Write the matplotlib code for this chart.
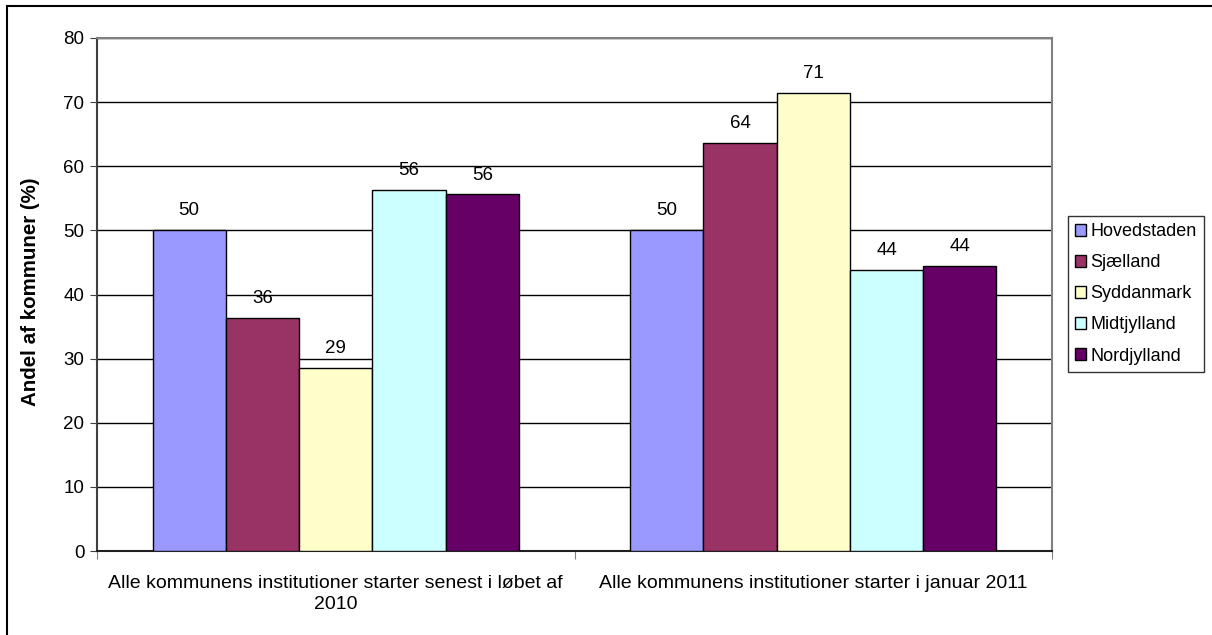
import matplotlib.pyplot as plt
from matplotlib.patches import Rectangle
import numpy as np

# data
categories = ["Alle kommunens institutioner starter senest i løbet af\n2010",
              "Alle kommunens institutioner starter i januar 2011"]
regions = ["Hovedstaden", "Sjælland", "Syddanmark", "Midtjylland", "Nordjylland"]
values = {
    "Hovedstaden": [50.0, 50.0],
    "Sjælland": [36.4, 63.6],
    "Syddanmark": [28.6, 71.4],
    "Midtjylland": [56.3, 43.8],
    "Nordjylland": [55.6, 44.4],
}
colors = ["#9999FF", "#993366", "#FFFFCC", "#CCFFFF", "#660066"]
yticks = [0, 10, 20, 30, 40, 50, 60, 70, 80]

plt.rcParams['font.family'] = ['Liberation Sans', 'DejaVu Sans']

W, H = 1212, 635
fig = plt.figure(figsize=(W/100, H/100), dpi=100)
ax = fig.add_axes([97/W, 1-551/H, (1052-97)/W, (551-38)/H])

# outer frame (runs off right and bottom edges)
fig.patches.append(Rectangle((7/W, -0.05), 1.1, 1.05-6/H, transform=fig.transFigure,
                             fill=False, edgecolor='black', linewidth=1.5))

x = np.arange(len(categories))
bw = 0.1535
for i, r in enumerate(regions):
    pos = x + (i-2)*bw
    bars = ax.bar(pos, values[r], bw, color=colors[i], edgecolor='black', linewidth=1,
                  label=r, zorder=3)
    for b, v in zip(bars, values[r]):
        ax.annotate("%d" % round(v), (b.get_x()+b.get_width()/2, v),
                    xytext=(0, 14), textcoords='offset points',
                    ha='center', va='center', fontsize=13.5)

ax.set_xlim(-0.5, 1.5)
ax.set_ylim(0, 80)
ax.set_yticks(yticks)
ax.tick_params(axis='y', labelsize=13.5, length=5, color='#404040', pad=4)
ax.yaxis.grid(True, color='black', linewidth=1, zorder=0)
ax.set_axisbelow(True)

ax.set_xticks([-0.5, 0.5, 1.5])
ax.set_xticklabels([])
ax.tick_params(axis='x', which='major', length=6, color='#808080')
ax.set_xticks(x, minor=True)
ax.set_xticklabels(categories, minor=True, fontsize=14, linespacing=1.35)
ax.tick_params(axis='x', which='minor', length=0, pad=17)

ax.set_ylabel("Andel af kommuner (%)", fontsize=14.8, fontweight='bold', labelpad=12)
ax.yaxis.set_label_coords(-57/955, (551-292)/513)

for s in ['top', 'right']:
    ax.spines[s].set_color('#808080')
    ax.spines[s].set_linewidth(1.5)
ax.spines['left'].set_color('#404040')
ax.spines['left'].set_linewidth(1.5)
ax.spines['bottom'].set_color('#202020')
ax.spines['bottom'].set_linewidth(1.5)

leg = ax.legend(loc='upper left', bbox_to_anchor=(1068/W, 1-216/H),
                bbox_transform=fig.transFigure, fontsize=13, frameon=True,
                fancybox=False, edgecolor='black', handlelength=0.6, handleheight=0.6,
                handletextpad=0.25, borderpad=0.4, labelspacing=0.78, borderaxespad=0)
leg.get_frame().set_linewidth(1)

fig.savefig("out.png", dpi=100)
